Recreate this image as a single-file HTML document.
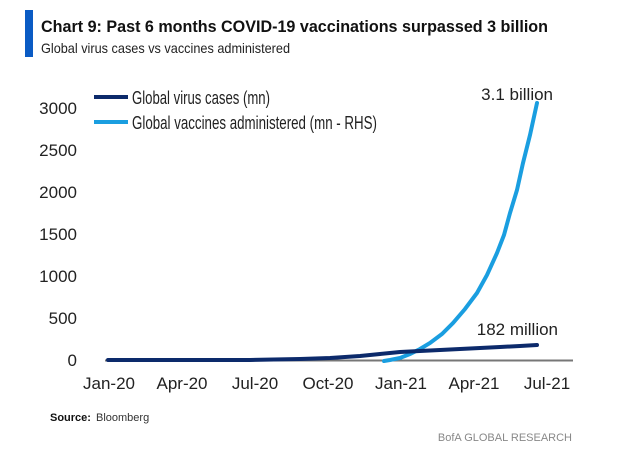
<!DOCTYPE html>
<html><head><style>
body{margin:0;background:#fff;}
svg text{font-family:"Liberation Sans",sans-serif;}
</style></head><body>
<svg width="617" height="451" xmlns="http://www.w3.org/2000/svg">
<rect x="25" y="10" width="8" height="47" fill="#0a5bc4"/>
<text x="41" y="32" font-size="17" font-weight="bold" fill="#111" textLength="507" lengthAdjust="spacingAndGlyphs">Chart 9:  Past 6 months COVID-19 vaccinations surpassed 3 billion</text>
<text x="41" y="53" font-size="14" fill="#222" textLength="249" lengthAdjust="spacingAndGlyphs">Global virus cases vs vaccines administered</text>
<g font-size="17" fill="#222" text-anchor="end">
<text x="77" y="114">3000</text><text x="77" y="156">2500</text><text x="77" y="198">2000</text>
<text x="77" y="240">1500</text><text x="77" y="282">1000</text><text x="77" y="324">500</text><text x="77" y="366">0</text>
</g>
<line x1="94" y1="97" x2="128" y2="97" stroke="#0c2a6b" stroke-width="4"/>
<line x1="94" y1="122" x2="128" y2="122" stroke="#1a9ee0" stroke-width="4"/>
<text x="132" y="104" font-size="18" fill="#222" textLength="138" lengthAdjust="spacingAndGlyphs">Global virus cases (mn)</text>
<text x="132" y="129" font-size="18" fill="#222" textLength="245" lengthAdjust="spacingAndGlyphs">Global vaccines administered (mn - RHS)</text>
<line x1="105" y1="360.5" x2="573" y2="360.5" stroke="#777" stroke-width="2"/>
<polyline fill="none" stroke="#1a9ee0" stroke-width="4" stroke-linecap="round" points="384,361 390,360 400,358 410,354 420,349 430,343 442,334 453,323 465,309 477,293 487,275 497,253 504,235 510,213 517,190 523,163 530,135 537,103"/>
<polyline fill="none" stroke="#0c2a6b" stroke-width="4" stroke-linecap="round" points="108,360 250,360 300,359 330,358 360,356 380,354 400,352 420,351 440,350 460,349 480,348 500,347 520,346 537,345"/>
<text x="553" y="100" font-size="17" fill="#222" text-anchor="end">3.1 billion</text>
<text x="558" y="335" font-size="17" fill="#222" text-anchor="end">182 million</text>
<g font-size="17" fill="#222" text-anchor="middle">
<text x="109" y="389">Jan-20</text><text x="182" y="389">Apr-20</text><text x="255" y="389">Jul-20</text>
<text x="328" y="389">Oct-20</text><text x="401" y="389">Jan-21</text><text x="474" y="389">Apr-21</text><text x="547" y="389">Jul-21</text>
</g>
<text x="50" y="421" font-size="11" font-weight="bold" fill="#111">Source:</text>
<text x="96" y="421" font-size="11" fill="#333">Bloomberg</text>
<text x="572" y="441" font-size="11" fill="#888" text-anchor="end">BofA GLOBAL RESEARCH</text>
</svg>
</body></html>
